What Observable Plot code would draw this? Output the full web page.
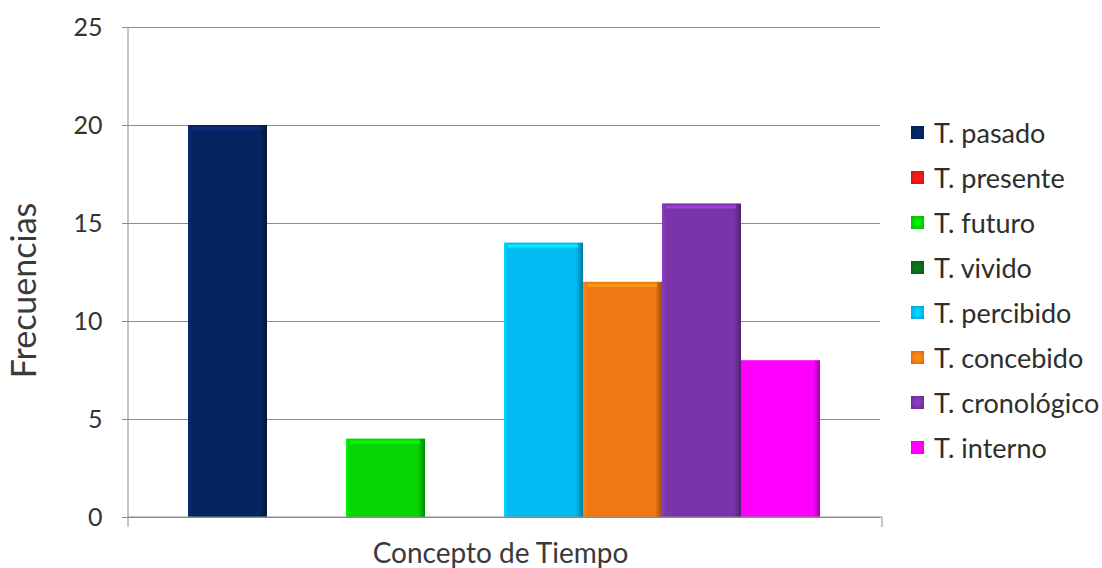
<!DOCTYPE html>
<html>
<head>
<meta charset="utf-8">
<script src="https://cdn.jsdelivr.net/npm/d3@7"></script>
<script src="https://cdn.jsdelivr.net/npm/@observablehq/plot@0.6"></script>
<style>
  html, body { margin: 0; padding: 0; background: #fff; }
  #chart { position: relative; width: 1102px; height: 568px; font-family: Lato, sans-serif; color: #333; }
  #chart svg { position: absolute; left: 0; top: 0; }
  #legend { position: absolute; left: 911px; top: 110px; }
  .row { display: flex; align-items: center; height: 45px; font-size: 27px; color: #2e2e2e; white-space: nowrap; }
  .sw { width: 13px; height: 13px; margin-right: 10px; box-sizing: border-box; }
</style>
</head>
<body>
<div id="chart"><div id="legend"></div></div>
<script>
// Series shown in the chart (one bar per concept of time)
const categories = ["T. pasado", "T. presente", "T. futuro", "T. vivido",
                    "T. percibido", "T. concebido", "T. cronológico", "T. interno"];
const frecuencias = [20, 0, 4, 0, 14, 12, 16, 8];
const colores = ["#06245f", "#e81818", "#05d405", "#0b6a1c",
                 "#00bcf2", "#f07812", "#7a34aa", "#ff00ff"];
const ticksY = [0, 5, 10, 15, 20, 25];

const data = categories.map((c, i) => ({
  categoria: c, valor: frecuencias[i], color: colores[i], id: `bevel-${i}`
}));

const plot = Plot.plot({
  width: 1102,
  height: 568,
  marginLeft: 128,
  marginRight: 222,
  marginTop: 27,
  marginBottom: 51,
  style: { fontFamily: "Lato, sans-serif", fontSize: "24px", color: "#333", background: "transparent" },
  x: { domain: categories, paddingInner: 0, paddingOuter: 0.75, axis: null },
  y: { domain: [0, 25], label: null },
  color: { type: "identity" },
  marks: [
    Plot.gridY(ticksY, { stroke: "#8c8c8c", strokeOpacity: 1 }),
    Plot.axisY(ticksY, { tickSize: 6, tickPadding: 20, stroke: "#8c8c8c", fill: "#333", label: null, fontSize: 25 }),
    Plot.barY(data, { x: "categoria", y: "valor", fill: d => `url(#${d.id})` }),
    // light bevel along the top edge of each bar
    Plot.tickY(data.filter(d => d.valor > 0), {
      x: "categoria", y: "valor", dy: 3, insetLeft: 4, insetRight: 5, strokeWidth: 3,
      stroke: d => d3.color(d.color).brighter(0.9).formatHex(), strokeOpacity: 0.75
    }),
    Plot.text(["Frecuencias"], {
      frameAnchor: "left", textAnchor: "middle", rotate: -90, dx: -103, dy: 18, fontSize: 34, fill: "#3a3a3a"
    }),
    Plot.text(["Concepto de Tiempo"], {
      frameAnchor: "bottom", dy: 37, dx: -4, lineAnchor: "middle", fontSize: 28, fill: "#3a3a3a"
    })
  ]
});

// Horizontal gradients giving each bar its shaded edges
const svg = d3.select(plot);
const defs = svg.insert("defs", ":first-child");
data.forEach(d => {
  const g = defs.append("linearGradient").attr("id", d.id).attr("x1", 0).attr("x2", 1).attr("y1", 0).attr("y2", 0);
  const c = d3.color(d.color);
  g.append("stop").attr("offset", "0%").attr("stop-color", c.brighter(0.4).formatHex());
  g.append("stop").attr("offset", "5%").attr("stop-color", c.formatHex());
  g.append("stop").attr("offset", "91%").attr("stop-color", c.formatHex());
  g.append("stop").attr("offset", "100%").attr("stop-color", c.darker(1.2).formatHex());
});

// Axis lines from the scales: value axis on the left, category baseline with end ticks
const xs = plot.scale("x"), ys = plot.scale("y");
const [xl, xr] = xs.range;
const yb = ys.apply(0), yt = ys.apply(25);
svg.append("path")
  .attr("fill", "none").attr("stroke", "#8c8c8c").attr("stroke-width", 1)
  .attr("d", `M${xl},${yt}V${yb + 10}M${xl},${yb}H${xr + 2}V${yb + 10}`);

document.getElementById("chart").prepend(plot);

// Legend at the right
const legend = d3.select("#legend");
data.forEach(d => {
  const c = d3.color(d.color);
  const row = legend.append("div").attr("class", "row");
  row.append("div").attr("class", "sw")
    .style("background", `radial-gradient(circle, ${c.brighter(0.5).formatHex()} 0%, ${c.formatHex()} 60%, ${c.darker(0.6).formatHex()} 100%)`);
  row.append("span").text(d.categoria);
});
</script>
</body>
</html>
